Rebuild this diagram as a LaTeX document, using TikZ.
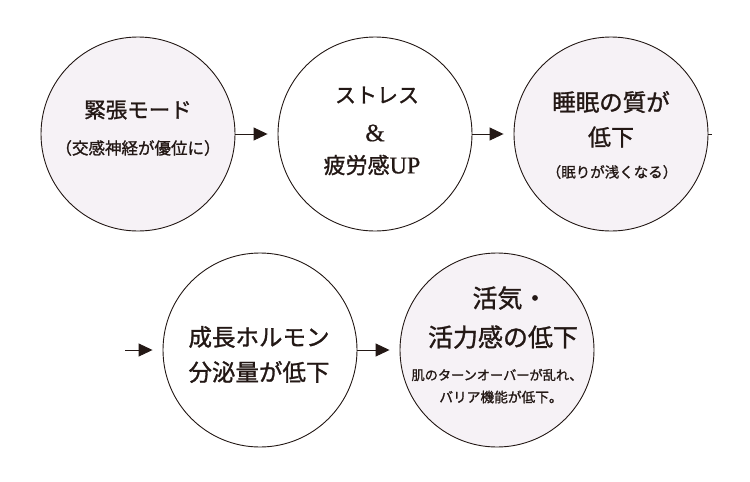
\documentclass[tikz,border=0pt]{standalone}
\usepackage{fontspec}
\setmainfont{Liberation Serif}
\newfontfamily\jp[FakeBold=1.2]{Noto Sans CJK JP}
\newfontfamily\lat[FakeBold=0.6]{Liberation Serif}
\usetikzlibrary{arrows.meta}
\definecolor{ink}{HTML}{231815}
\definecolor{lav}{HTML}{F6F2F6}
\tikzset{
  x=1pt,y=1pt,
  bubble/.style={circle,draw=ink,line width=0.9pt,minimum size=194pt,inner sep=0pt},
  tinted/.style={bubble,fill=lav},
  plain/.style={bubble,fill=white},
  txt/.style={text=ink,inner sep=0pt,anchor=center},
  flow/.style={draw=ink,line width=0.9pt,-{Triangle[length=14pt,width=13pt]}},
}
\newcommand{\fs}[1]{\fontsize{#1}{#1}\selectfont}
\begin{document}
\begin{tikzpicture}
\useasboundingbox (0,0) rectangle (750,-482);
\node[tinted] (c1) at (138,-134) {};
\node[plain]  (c2) at (375,-134) {};
\node[tinted] (c3) at (611,-134) {};
\node[plain]  (c4) at (260,-350) {};
\node[tinted] (c5) at (497,-350) {};

\node[txt] (t1a) at (138,-110) {\jp\fs{21.5}緊張モード};
\node[txt] (t1b) at (138,-148) {\jp\fs{16.5}（交感神経が優位に）};

\node[txt] (t2a) at (377,-95) {\jp\fs{21}ストレス};
\node[txt] (t2b) at (375,-133) {\lat\fs{25}\&};
\node[txt] (t2c) at (372,-165) {{\jp\fs{22}疲労感}\lat\fs{24}UP};

\node[txt] (t3a) at (611,-102) {\jp\fs{23.5}睡眠の質が};
\node[txt] (t3b) at (611,-137) {\jp\fs{23}低下};
\node[txt] (t3c) at (612,-172) {\jp\fs{14.5}（眠りが浅くなる）};

\node[txt] (t4a) at (259,-337) {\jp\fs{23.5}成長ホルモン};
\node[txt] (t4b) at (259,-372) {\jp\fs{23.5}分泌量が低下};

\node[txt] (t5a) at (510,-298) {\jp\fs{25}活気・};
\node[txt] (t5b) at (503,-337) {\jp\fs{25}活力感の低下};
\node[txt] (t5c) at (497,-375) {\jp\fs{13.2}肌のターンオーバーが乱れ、};
\node[txt] (t5d) at (501,-397) {\jp\fs{13.7}バリア機能が低下。};

\coordinate (stub) at (712,-134);
\coordinate (in4) at (125,-350);

\draw[flow,shorten >=10pt] (c1) -- (c2);
\draw[flow,shorten >=10pt] (c2) -- (c3);
\draw[draw=ink,line width=0.9pt] (c3.east) -- (stub);
\draw[flow,shorten >=10pt] (in4) -- (c4);
\draw[flow,shorten >=10pt] (c4) -- (c5);
\end{tikzpicture}
\end{document}
